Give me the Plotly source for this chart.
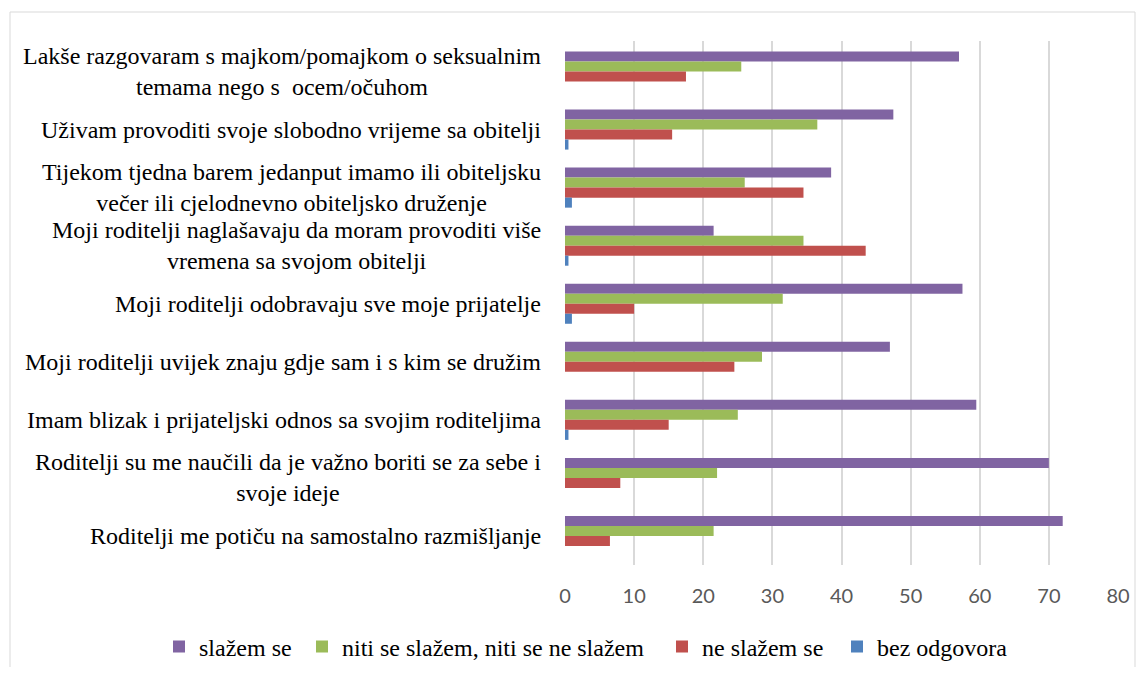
import plotly.graph_objects as go

categories = [
    "Lakše razgovaram s majkom/pomajkom o seksualnim<br>temama nego s  ocem/očuhom",
    "Uživam provoditi svoje slobodno vrijeme sa obitelji",
    "Tijekom tjedna barem jedanput imamo ili obiteljsku<br>večer ili cjelodnevno obiteljsko druženje",
    "Moji roditelji naglašavaju da moram provoditi više<br>vremena sa svojom obitelji",
    "Moji roditelji odobravaju sve moje prijatelje",
    "Moji roditelji uvijek znaju gdje sam i s kim se družim",
    "Imam blizak i prijateljski odnos sa svojim roditeljima",
    "Roditelji su me naučili da je važno boriti se za sebe i<br>svoje ideje",
    "Roditelji me potiču na samostalno razmišljanje",
]
slazem = [57, 47.5, 38.5, 21.5, 57.5, 47, 59.5, 70, 72]
niti = [25.5, 36.5, 26, 34.5, 31.5, 28.5, 25, 22, 21.5]
ne_slazem = [17.5, 15.5, 34.5, 43.5, 10, 24.5, 15, 8, 6.5]
bez = [0, 0.5, 1, 0.5, 1, 0, 0.5, 0, 0]

series_names = ["slažem se", "niti se slažem, niti se ne slažem", "ne slažem se", "bez odgovora"]
series_vals = [slazem, niti, ne_slazem, bez]
colors = ["#8064A2", "#9BBB59", "#C0504D", "#4F81BD"]
x_ticks = [0, 10, 20, 30, 40, 50, 60, 70, 80]

W, H = 1132, 659
L, R, T, B = 557, 22, 33, 102
PW, PH = W - L - R, H - T - B

legend_left_px = [151, 294, 654, 829]
legend_names = ["legend", "legend2", "legend3", "legend4"]

ids = list(range(len(categories)))

fig = go.Figure()
for name, vals, col, lg in zip(series_names, series_vals, colors, legend_names):
    fig.add_trace(go.Bar(
        y=ids, x=vals, name=name, orientation="h", legend=lg,
        marker=dict(color=col, line=dict(width=0)),
    ))

serif = "Liberation Serif, Times New Roman, serif"
for i, cat in enumerate(categories):
    fig.add_annotation(
        x=0, xref="paper", y=i, yref="y", xanchor="right", yanchor="middle",
        xshift=-22, text=cat, showarrow=False, align="center",
        font=dict(family=serif, size=24, color="#000000"),
    )

legend_font = dict(family=serif, size=24, color="#000000")
legend_y = (PH - (639 - T)) / PH
legend_layouts = {}
for lg, px in zip(legend_names, legend_left_px):
    legend_layouts[lg] = dict(
        orientation="h", xref="paper", yref="paper",
        x=(px - L) / PW, xanchor="left", y=legend_y, yanchor="middle",
        font=legend_font, itemwidth=30, bgcolor="rgba(0,0,0,0)",
    )

fig.update_layout(
    width=W, height=H,
    margin=dict(l=L, r=R, t=T, b=B, autoexpand=False),
    paper_bgcolor="white", plot_bgcolor="white",
    barmode="group", bargap=0.31, bargroupgap=0,
    showlegend=True,
    xaxis=dict(
        range=[0, 80], tickvals=x_ticks, showgrid=True,
        gridcolor="#D9D9D9", gridwidth=1.5, zeroline=False,
        showline=False, ticks="",
        tickfont=dict(family="Lato", size=20, color="#595959"),
        ticklabelstandoff=17,
    ),
    yaxis=dict(
        autorange="reversed", showticklabels=False, showgrid=False,
        zeroline=False, showline=False, ticks="",
    ),
    shapes=[dict(
        type="rect", xref="paper", yref="paper",
        x0=(2 - L) / PW, x1=(1127 - L) / PW,
        y0=(PH - (700 - T)) / PH, y1=1 + (T - 4) / PH,
        line=dict(color="#D9D9D9", width=1), fillcolor="rgba(0,0,0,0)",
        layer="below",
    )],
    **legend_layouts,
)

fig.write_html("out.html")
